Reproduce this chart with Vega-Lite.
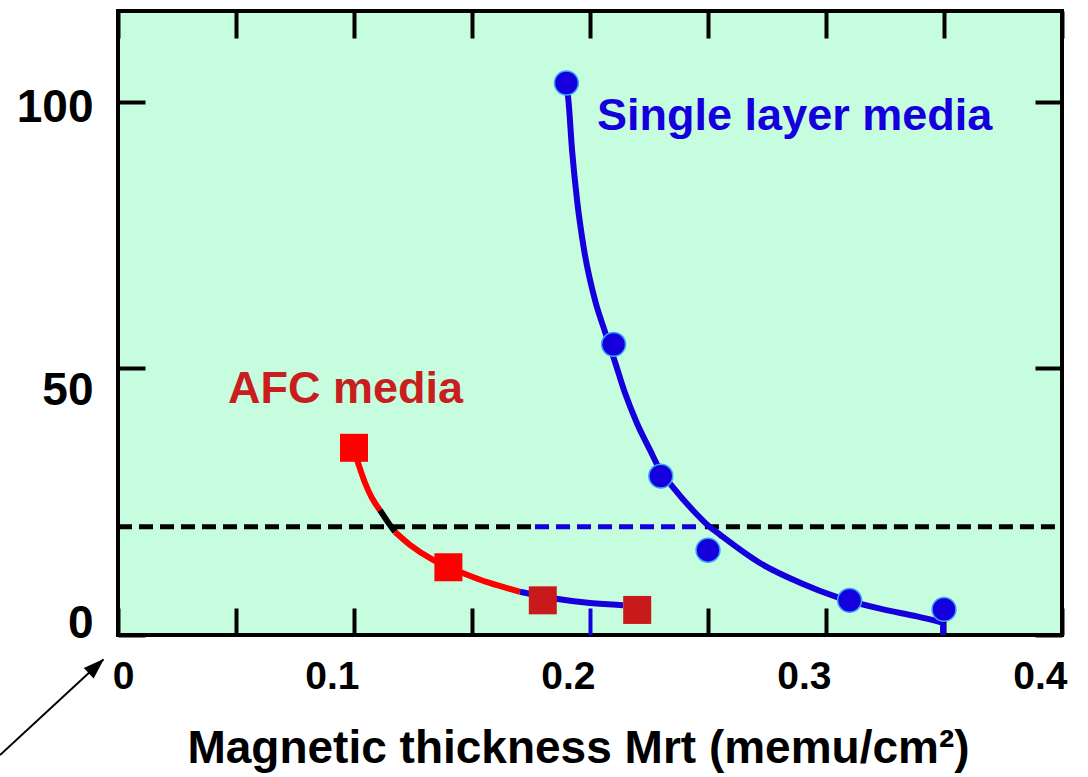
{
  "$schema": "https://vega.github.io/schema/vega-lite/v6.json",
  "width": 944,
  "height": 624,
  "autosize": {"type": "none"},
  "padding": {"left": 118, "top": 11, "right": 26, "bottom": 142},
  "background": "white",
  "config": {
    "view": {"fill": "#c7fddf", "stroke": "black", "strokeWidth": 4},
    "font": "Liberation Sans"
  },
  "resolve": {"axis": {"x": "independent", "y": "independent"}},
  "datasets": {
    "reference": [
      {"x": 0, "x2": 0.175, "y": 20.3, "segment": "outside"},
      {"x": 0.1767, "x2": 0.2475, "y": 20.3, "segment": "between"},
      {"x": 0.2487, "x2": 0.4, "y": 20.3, "segment": "outside"}
    ],
    "fits": [
      {"series": "single", "order": 1, "x": 0.1898, "y": 102.9},
      {"series": "single", "order": 2, "x": 0.1907, "y": 100.9},
      {"series": "single", "order": 3, "x": 0.1924, "y": 90.9},
      {"series": "single", "order": 4, "x": 0.1945, "y": 81.6},
      {"series": "single", "order": 5, "x": 0.1975, "y": 72.2},
      {"series": "single", "order": 6, "x": 0.2021, "y": 62.8},
      {"series": "single", "order": 7, "x": 0.2064, "y": 56.8},
      {"series": "single", "order": 8, "x": 0.2106, "y": 51.2},
      {"series": "single", "order": 9, "x": 0.2148, "y": 45.4},
      {"series": "single", "order": 10, "x": 0.2199, "y": 39.7},
      {"series": "single", "order": 11, "x": 0.2254, "y": 34.7},
      {"series": "single", "order": 12, "x": 0.2297, "y": 30.9},
      {"series": "single", "order": 13, "x": 0.2352, "y": 27.7},
      {"series": "single", "order": 14, "x": 0.2436, "y": 23.4},
      {"series": "single", "order": 15, "x": 0.2504, "y": 20.4},
      {"series": "single", "order": 16, "x": 0.2551, "y": 18.8},
      {"series": "single", "order": 17, "x": 0.272, "y": 13.5},
      {"series": "single", "order": 18, "x": 0.289, "y": 9.8},
      {"series": "single", "order": 19, "x": 0.3047, "y": 7.1},
      {"series": "single", "order": 20, "x": 0.3242, "y": 4.8},
      {"series": "single", "order": 21, "x": 0.3386, "y": 3.5},
      {"series": "single", "order": 22, "x": 0.3496, "y": 2.3},
      {"series": "single drop", "order": 1, "x": 0.3496, "y": 2.3},
      {"series": "single drop", "order": 2, "x": 0.3496, "y": 0},
      {"series": "afc upper", "order": 1, "x": 0.0996, "y": 35.1},
      {"series": "afc upper", "order": 2, "x": 0.1017, "y": 32.3},
      {"series": "afc upper", "order": 3, "x": 0.1047, "y": 28.5},
      {"series": "afc upper", "order": 4, "x": 0.1076, "y": 25.7},
      {"series": "afc upper", "order": 5, "x": 0.111, "y": 23.4},
      {"series": "afc crossing", "order": 1, "x": 0.111, "y": 23.4},
      {"series": "afc crossing", "order": 2, "x": 0.114, "y": 21.4},
      {"series": "afc crossing", "order": 3, "x": 0.1174, "y": 19.3},
      {"series": "afc middle", "order": 1, "x": 0.1174, "y": 19.3},
      {"series": "afc middle", "order": 2, "x": 0.1237, "y": 16.9},
      {"series": "afc middle", "order": 3, "x": 0.1335, "y": 14.1},
      {"series": "afc middle", "order": 4, "x": 0.1398, "y": 12.8},
      {"series": "afc middle", "order": 5, "x": 0.1479, "y": 11.3},
      {"series": "afc middle", "order": 6, "x": 0.1564, "y": 9.9},
      {"series": "afc middle", "order": 7, "x": 0.1648, "y": 8.8},
      {"series": "afc middle", "order": 8, "x": 0.1703, "y": 8.1},
      {"series": "afc tail", "order": 1, "x": 0.1703, "y": 8.1},
      {"series": "afc tail", "order": 2, "x": 0.1843, "y": 6.9},
      {"series": "afc tail", "order": 3, "x": 0.2, "y": 6.0},
      {"series": "afc tail", "order": 4, "x": 0.214, "y": 5.6}
    ],
    "single": [
      {"x": 0.19, "y": 103.5},
      {"x": 0.21, "y": 54.5},
      {"x": 0.23, "y": 29.8},
      {"x": 0.25, "y": 15.9},
      {"x": 0.31, "y": 6.5},
      {"x": 0.35, "y": 4.8}
    ],
    "afc": [
      {"x": 0.1, "y": 35.1, "tone": "bright"},
      {"x": 0.14, "y": 12.7, "tone": "bright"},
      {"x": 0.18, "y": 6.5, "tone": "dark"},
      {"x": 0.22, "y": 4.7, "tone": "dark"}
    ],
    "labels": [
      {"label": "Single layer media", "x": 0.203, "y": 94.7},
      {"label": "AFC media", "x": 0.0466, "y": 43.5}
    ],
    "arrow": [
      {"x": -0.05, "y": -22.5, "part": "tail"},
      {"x": -0.0062, "y": -4.6, "part": "tip"}
    ]
  },
  "layer": [
    {
      "data": {"name": "reference"},
      "mark": {"type": "rule", "strokeWidth": 5, "strokeDash": [14, 7]},
      "encoding": {
        "x": {
          "field": "x", "type": "quantitative",
          "scale": {"domain": [0, 0.4], "nice": false, "zero": false},
          "axis": {
            "orient": "bottom",
            "values": [0, 0.05, 0.1, 0.15, 0.2, 0.25, 0.3, 0.35, 0.4],
            "domain": false, "grid": false,
            "tickSize": -27, "tickWidth": 4,
            "tickColor": {"condition": {"test": "datum.value === 0.2", "value": "#1500dd"}, "value": "black"},
            "labelExpr": "round(datum.value*100) % 10 === 0 ? format(datum.value, '.1~f') : ''",
            "labelFont": "Liberation Sans", "labelFontWeight": "bold", "labelFontSize": 39, "labelColor": "black",
            "labelBaseline": "top", "labelPadding": 49,
            "labelAlign": {"condition": {"test": "datum.value === 0", "value": "center"}, "value": "right"},
            "labelOffset": 5,
            "labelFlush": false, "labelOverlap": false,
            "title": "Magnetic thickness Mrt (memu/cm²)",
            "titleFont": "Liberation Sans", "titleFontWeight": "bold", "titleFontSize": 46, "titleColor": "black",
            "titleX": 460, "titleY": 127, "titleAlign": "center", "titleBaseline": "alphabetic", "titleAnchor": null
          }
        },
        "x2": {"field": "x2"},
        "y": {
          "field": "y", "type": "quantitative",
          "scale": {"domain": [0, 117], "nice": false, "zero": false},
          "axis": {
            "orient": "left",
            "values": [0, 50, 100],
            "domain": false, "grid": false,
            "tickSize": -27, "tickWidth": 4, "tickColor": "black",
            "labelFont": "Liberation Sans", "labelFontWeight": "bold", "labelFontSize": 46, "labelColor": "black",
            "labelPadding": 52, "labelBaseline": "middle", "labelAlign": "right",
            "labelOffset": {"condition": [{"test": "datum.value === 0", "value": -12}, {"test": "datum.value === 50", "value": 22}], "value": 6},
            "labelFlush": false, "labelOverlap": false,
            "title": null
          }
        },
        "color": {"condition": {"test": "datum.segment === 'between'", "value": "#1500dd"}, "value": "black"}
      }
    },
    {
      "data": {"name": "fits"},
      "mark": {"type": "line", "strokeWidth": 6, "interpolate": "monotone", "strokeCap": "butt"},
      "encoding": {
        "x": {
          "field": "x", "type": "quantitative",
          "axis": {
            "orient": "top",
            "values": [0, 0.05, 0.1, 0.15, 0.2, 0.25, 0.3, 0.35, 0.4],
            "domain": false, "grid": false, "labels": false,
            "tickSize": -27, "tickWidth": 4, "tickColor": "black", "title": null
          }
        },
        "y": {
          "field": "y", "type": "quantitative",
          "axis": {
            "orient": "right",
            "values": [0, 50, 100],
            "domain": false, "grid": false, "labels": false,
            "tickSize": -27, "tickWidth": 4, "tickColor": "black", "title": null
          }
        },
        "detail": {"field": "series"},
        "order": {"field": "order"},
        "color": {
          "condition": [
            {"test": "datum.series === 'afc upper' || datum.series === 'afc middle'", "value": "#ff0000"},
            {"test": "datum.series === 'afc crossing'", "value": "#000000"}
          ],
          "value": "#1500dd"
        }
      }
    },
    {
      "data": {"name": "single"},
      "mark": {"type": "point", "shape": "circle", "filled": true, "size": 570, "opacity": 1, "fill": "#1500dd", "stroke": "#38a4ff", "strokeWidth": 1.5},
      "encoding": {
        "x": {"field": "x", "type": "quantitative", "axis": null},
        "y": {"field": "y", "type": "quantitative", "axis": null}
      }
    },
    {
      "data": {"name": "afc"},
      "mark": {"type": "point", "shape": "square", "filled": true, "size": 784, "opacity": 1},
      "encoding": {
        "x": {"field": "x", "type": "quantitative", "axis": null},
        "y": {"field": "y", "type": "quantitative", "axis": null},
        "color": {"condition": {"test": "datum.tone === 'dark'", "value": "#c81a1a"}, "value": "#ff0000"}
      }
    },
    {
      "data": {"name": "labels"},
      "mark": {"type": "text", "align": "left", "baseline": "alphabetic", "font": "Liberation Sans", "fontWeight": "bold", "fontSize": 45},
      "encoding": {
        "x": {"field": "x", "type": "quantitative", "axis": null},
        "y": {"field": "y", "type": "quantitative", "axis": null},
        "text": {"field": "label"},
        "color": {"condition": {"test": "datum.label === 'AFC media'", "value": "#c81e1e"}, "value": "#1500dd"}
      }
    },
    {
      "data": {"name": "arrow"},
      "mark": {"type": "line", "strokeWidth": 2, "color": "black", "clip": false},
      "encoding": {
        "x": {"field": "x", "type": "quantitative", "axis": null},
        "y": {"field": "y", "type": "quantitative", "axis": null}
      }
    },
    {
      "data": {"name": "arrow"},
      "transform": [{"filter": "datum.part === 'tip'"}],
      "mark": {"type": "point", "shape": "M0,-0.05L0.36,1L-0.36,1Z", "filled": true, "size": 1600, "angle": 47, "color": "black", "opacity": 1, "clip": false},
      "encoding": {
        "x": {"field": "x", "type": "quantitative", "axis": null},
        "y": {"field": "y", "type": "quantitative", "axis": null}
      }
    }
  ]
}
